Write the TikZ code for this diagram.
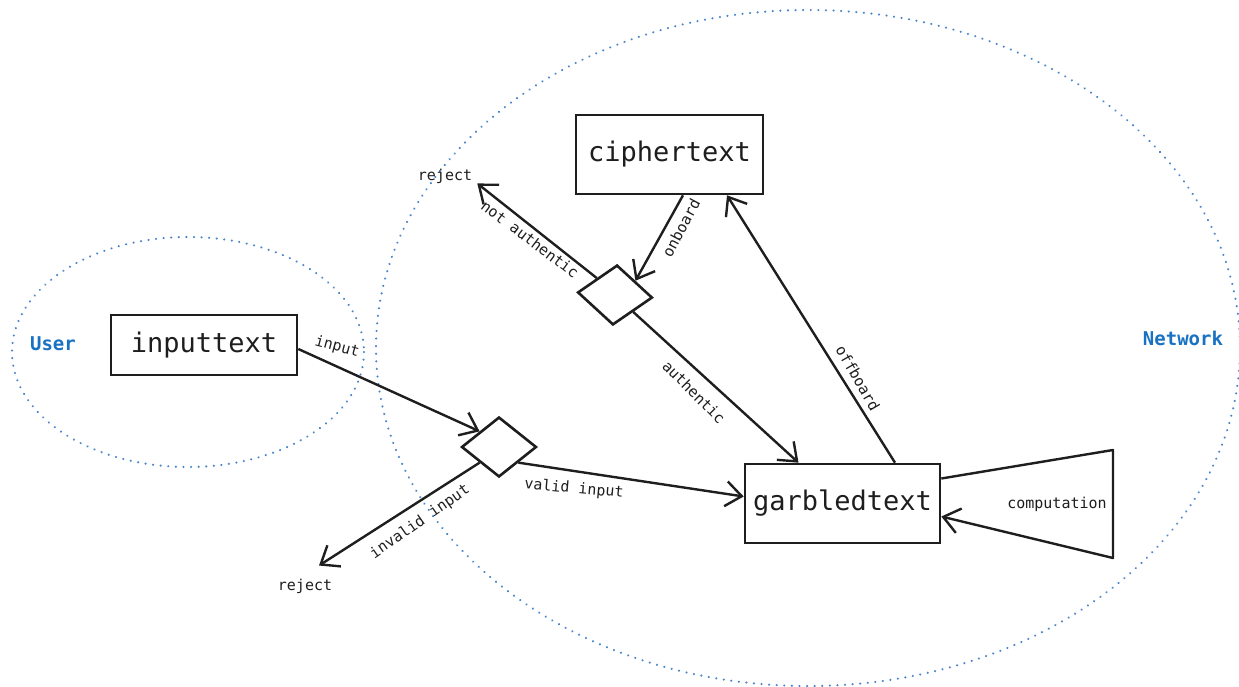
\documentclass[tikz,border=0pt]{standalone}
\usepackage{fontspec}
\setmonofont{DejaVu Sans Mono}
\setmainfont{DejaVu Sans Mono}
\usetikzlibrary{shapes.geometric,arrows.meta,calc}
\definecolor{ink}{HTML}{1E1E1E}
\definecolor{grpblue}{HTML}{1971C2}
\definecolor{dotblue}{HTML}{4A86C8}
\tikzset{
  boxnode/.style={draw=ink, line width=2.6pt, fill=white, text=ink, inner sep=0pt,
    font=\fontsize{27pt}{32pt}\selectfont},
  decision/.style={draw=ink, line width=2.6pt, fill=white, diamond, inner sep=0pt,
    minimum width=75pt, minimum height=60pt},
  lbl/.style={text=ink, inner sep=1pt, font=\fontsize{15pt}{18pt}\selectfont},
  grp/.style={text=grpblue, inner sep=1pt, font=\fontsize{19pt}{22pt}\selectfont\bfseries},
  region/.style={draw=dotblue, line width=2.3pt, line cap=round, dash pattern=on 0.1pt off 7.5pt},
  arr/.style={draw=ink, line width=2.4pt, line join=round,
    -{Straight Barb[length=16pt, width=25pt, line width=2.4pt]}},
  conn/.style={draw=ink, line width=2.4pt, line join=round}
}
\begin{document}
\begin{tikzpicture}[x=1pt, y=-1pt]
\useasboundingbox (0,0) rectangle (1239,687);
% regions
\draw[region] (808,348) ellipse [x radius=432, y radius=338];
\draw[region] (188,352) ellipse [x radius=176, y radius=115];
\node[grp] (user) at (53,344) {User};
\node[grp] (net) at (1183,338) {Network};
% main boxes
\node[boxnode, minimum width=186pt, minimum height=60pt] (ip) at (204,345) {inputtext};
\node[boxnode, minimum width=187pt, minimum height=79pt] (ct) at (669.5,154.5) {ciphertext};
\node[boxnode, minimum width=195pt, minimum height=79pt] (gt) at (842.5,503.5) {garbledtext};
% decisions
\node[decision, rotate=-4] (d1) at (615,295) {};
\node[decision] (d2) at (499,447) {};
% reject texts
\node[lbl] (rj1) at (445,176) {reject};
\node[lbl] (rj2) at (305,586) {reject};
% computation loop corners
\coordinate (tA) at (1113,450);
\coordinate (tB) at (1113,558);
% connectors
\draw[arr] ($(ip.east)+(0,4)$) -- (d2.north west);
\draw[arr] (d2.south west) -- ($(rj2.north)+(14,-12)$);
\draw[arr] (d2.south east) -- ($(gt.west)+(0,-7)$);
\draw[arr] ($(ct.south)+(13.5,0)$) -- (d1.north east);
\draw[arr] (d1.north west) -- ($(rj1.south east)+(4,-1)$);
\draw[arr] (d1.south east) -- ($(gt.north)+(-44,0)$);
\draw[arr] ($(gt.north)+(52.5,0)$) -- ($(ct.south)+(57.5,0)$);
\draw[arr] ($(gt.east)+(0,-25)$) -- (tA) -- (tB) -- ($(gt.east)+(0,13)$);
% connector labels
\node[lbl, rotate=-15] (l1) at (337,347) {input};
\node[lbl, rotate=35] (l2) at (420,522) {invalid input};
\node[lbl, rotate=-5] (l3) at (574,489) {valid input};
\node[lbl, rotate=62] (l4) at (681,228) {onboard};
\node[lbl, rotate=-37] (l5) at (530,239) {not authentic};
\node[lbl, rotate=-45] (l6) at (694,392) {authentic};
\node[lbl, rotate=-60] (l7) at (858,378) {offboard};
\node[lbl] (l8) at (1057,504) {computation};
\end{tikzpicture}
\end{document}
